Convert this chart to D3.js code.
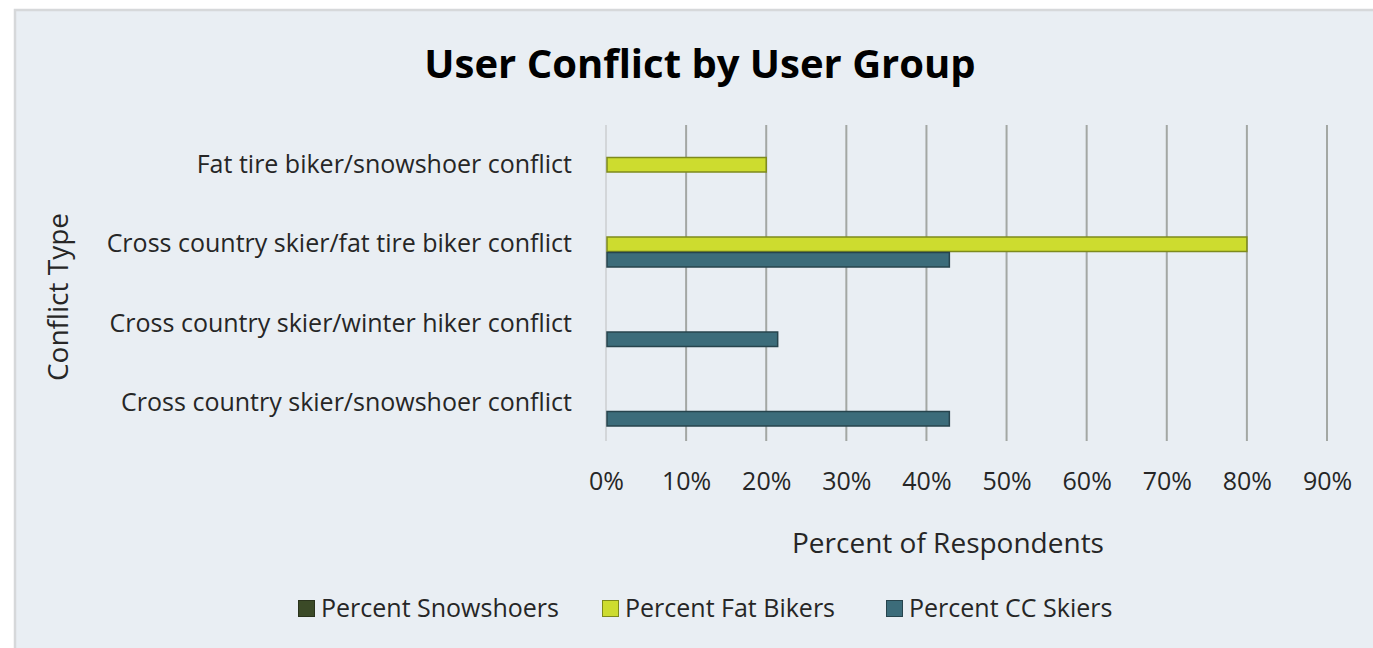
<!DOCTYPE html>
<html>
<head>
<meta charset="utf-8">
<script src="https://cdn.jsdelivr.net/npm/d3@7"></script>
<style>
  html, body { margin: 0; padding: 0; background: #ffffff; }
  svg { display: block; }
  text { font-family: "Open Sans", "Noto Sans", sans-serif; }
</style>
</head>
<body>
<svg id="chart" width="1373" height="648"></svg>
<script>
// Conflict types, listed top to bottom
const categories = [
  "Fat tire biker/snowshoer conflict",
  "Cross country skier/fat tire biker conflict",
  "Cross country skier/winter hiker conflict",
  "Cross country skier/snowshoer conflict"
];
// Series names, drawn top to bottom within each group
const seriesNames = ["Percent Snowshoers", "Percent Fat Bikers", "Percent CC Skiers"];
const seriesColors = ["#3b4a27", "#cddc2f", "#3c6c7a"];
const seriesStrokes = ["#2a331c", "#7e8a1c", "#27444d"];
// Share of respondents (%) per conflict type
const snowshoers = [0, 0, 0, 0];
const fatBikers = [20, 80, 0, 0];
const ccSkiers = [0, 42.86, 21.43, 42.86];
const seriesValues = [snowshoers, fatBikers, ccSkiers];
const xTicks = [0, 10, 20, 30, 40, 50, 60, 70, 80, 90];

const svg = d3.select("#chart");

// chart area background with frame
svg.append("rect")
  .attr("x", 15).attr("y", 10)
  .attr("width", 1373).attr("height", 660)
  .attr("fill", "#e9eef3")
  .attr("stroke", "#d6d8da").attr("stroke-width", 2.5);

const plot = { left: 606, right: 1327, top: 125, bottom: 443 };

const x = d3.scaleLinear().domain([0, 90]).range([plot.left, plot.right]);
const y = d3.scaleBand().domain(categories).range([plot.top, plot.bottom]).paddingInner(0).paddingOuter(0);
const groupH = 46.5;
const ySub = d3.scaleBand().domain(seriesNames).range([0, groupH]);

// vertical gridlines
const grid = svg.append("g");
grid.selectAll("line")
  .data(xTicks.filter(d => d > 0))
  .join("line")
  .attr("x1", d => x(d)).attr("x2", d => x(d))
  .attr("y1", plot.top).attr("y2", plot.bottom - 2)
  .attr("stroke", "#a3a7a3").attr("stroke-width", 2);

// value axis baseline
svg.append("line")
  .attr("x1", x(0)).attr("x2", x(0))
  .attr("y1", plot.top).attr("y2", plot.bottom - 2)
  .attr("stroke", "#d3d6d9").attr("stroke-width", 2);

// bars
const groups = svg.append("g").selectAll("g")
  .data(categories)
  .join("g")
  .attr("transform", d => `translate(0,${y(d) + (y.bandwidth() - groupH) / 2})`);

groups.selectAll("rect")
  .data((c, i) => seriesNames.map((s, j) => ({ s, j, v: seriesValues[j][i] })).filter(d => d.v > 0))
  .join("rect")
  .attr("x", x(0) + 1)
  .attr("y", d => ySub(d.s) + 0.5)
  .attr("width", d => x(d.v) - x(0) - 1)
  .attr("height", ySub.bandwidth() - 1)
  .attr("fill", d => seriesColors[d.j])
  .attr("stroke", d => seriesStrokes[d.j])
  .attr("stroke-width", 1.5);

// category axis labels
const yAxis = d3.axisLeft(y).tickSize(0).tickPadding(0);
const gy = svg.append("g")
  .attr("transform", `translate(${572},0)`)
  .call(yAxis);
gy.select(".domain").remove();
gy.selectAll("text")
  .attr("font-size", 25)
  .attr("fill", "#262626")
  .attr("font-family", "'Open Sans', sans-serif");

// value axis tick labels
const xAxis = d3.axisBottom(x).tickValues(xTicks).tickSize(0).tickPadding(0).tickFormat(d => d + "%");
const gx = svg.append("g")
  .attr("transform", `translate(0,${481})`)
  .call(xAxis);
gx.select(".domain").remove();
gx.selectAll("text")
  .attr("font-size", 25)
  .attr("fill", "#262626")
  .attr("dy", "0.35em")
  .attr("font-family", "'Open Sans', sans-serif");

// title
svg.append("text")
  .attr("x", 700).attr("y", 78)
  .attr("text-anchor", "middle")
  .attr("font-size", 40)
  .attr("font-weight", "bold")
  .attr("fill", "#000")
  .text("User Conflict by User Group");

// axis titles
svg.append("text")
  .attr("x", 948).attr("y", 553)
  .attr("text-anchor", "middle")
  .attr("font-size", 28)
  .attr("fill", "#262626")
  .text("Percent of Respondents");

svg.append("text")
  .attr("transform", `translate(${68},${297}) rotate(-90)`)
  .attr("text-anchor", "middle")
  .attr("font-size", 28)
  .attr("fill", "#262626")
  .text("Conflict Type");

// legend
const legendX = [298, 602, 886];
const legend = svg.append("g").selectAll("g")
  .data(seriesNames)
  .join("g")
  .attr("transform", (d, i) => `translate(${legendX[i]},${600})`);
legend.append("rect")
  .attr("x", 0.5).attr("y", 0.5)
  .attr("width", 16).attr("height", 16)
  .attr("fill", (d, i) => seriesColors[i])
  .attr("stroke", (d, i) => seriesStrokes[i]).attr("stroke-width", 1);
legend.append("text")
  .attr("x", 23).attr("y", 17)
  .attr("font-size", 25)
  .attr("fill", "#262626")
  .text(d => d);
</script>
</body>
</html>
